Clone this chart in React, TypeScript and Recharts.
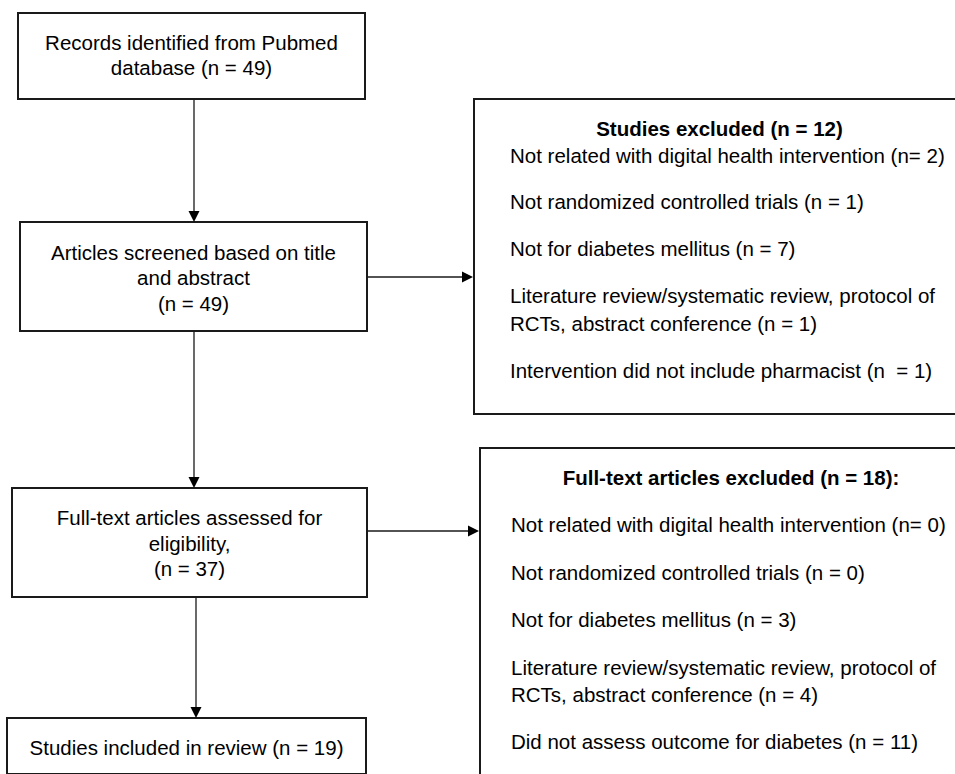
import React from "react";
import { ScatterChart, Scatter, XAxis, YAxis, ReferenceArea, ReferenceLine } from "recharts";

const FONT = '"Liberation Sans", Arial, Helvetica, sans-serif';
const W = 955;
const H = 774;

// Main flow boxes (labels)
const mainBoxLabels: string[][] = [
  ["Records identified from Pubmed", "database (n = 49)"],
  ["Articles screened based on title", "and abstract", "(n = 49)"],
  ["Full-text articles assessed for", "eligibility,", "(n = 37)"],
  ["Studies included in review (n = 19)"],
];
// Main flow boxes (geometry in diagram units)
const mainBoxX1 = [18, 20, 12, 7];
const mainBoxX2 = [365, 367, 367, 366];
const mainBoxY1 = [13, 222, 488, 718];
const mainBoxY2 = [99, 331, 597, 774];
const mainBoxLineY = [[42, 67], [252, 277, 303], [517, 543, 568], [747]];

// Exclusion boxes
const screeningTitle = "Studies excluded (n = 12)";
const screeningReasons: string[][] = [
  ["Not related with digital health intervention (n= 2)"],
  ["Not randomized controlled trials (n = 1)"],
  ["Not for diabetes mellitus (n = 7)"],
  ["Literature review/systematic review, protocol of", "RCTs, abstract conference (n = 1)"],
  ["Intervention did not include pharmacist (n  = 1)"],
];
const screeningTitleY = 128;
const screeningReasonY = [[155], [201], [248], [295, 323], [370]];

const fullTextTitle = "Full-text articles excluded (n = 18):";
const fullTextReasons: string[][] = [
  ["Not related with digital health intervention (n= 0)"],
  ["Not randomized controlled trials (n = 0)"],
  ["Not for diabetes mellitus (n = 3)"],
  ["Literature review/systematic review, protocol of", "RCTs, abstract conference (n = 4)"],
  ["Did not assess outcome for diabetes (n = 11)"],
];
const fullTextTitleY = 477;
const fullTextReasonY = [[524], [572], [619], [667, 694], [741]];

const sideBoxX1 = [474, 480];
const sideBoxX2 = [965, 982];
const sideBoxY1 = [99, 448];
const sideBoxY2 = [414, 800];
const sideTextX = [510, 511];

// Arrows: [x1, y1, x2, y2]
const arrowsFrom = [[194, 99], [194, 331], [196, 597], [367, 277], [367, 531]];
const arrowsTo = [[194, 222], [194, 488], [196, 718], [473, 277], [479, 531]];

type TextItem = { x: number; y: number; label: string; anchor: "start" | "middle"; bold: boolean };

const textItems: TextItem[] = [];
mainBoxLabels.forEach((lines, i) => {
  const cx = (mainBoxX1[i] + mainBoxX2[i]) / 2;
  lines.forEach((l, j) => textItems.push({ x: cx, y: mainBoxLineY[i][j], label: l, anchor: "middle", bold: false }));
});
const sideTitles = [screeningTitle, fullTextTitle];
const sideTitleY = [screeningTitleY, fullTextTitleY];
const sideReasons = [screeningReasons, fullTextReasons];
const sideReasonY = [screeningReasonY, fullTextReasonY];
sideTitles.forEach((t, i) => {
  textItems.push({ x: (sideBoxX1[i] + sideBoxX2[i]) / 2, y: sideTitleY[i], label: t, anchor: "middle", bold: true });
  sideReasons[i].forEach((lines, k) =>
    lines.forEach((l, j) => textItems.push({ x: sideTextX[i], y: sideReasonY[i][k][j], label: l, anchor: "start", bold: false }))
  );
});

const TextShape = (props: any) => {
  const { cx, cy, payload } = props;
  if (cx == null || cy == null || !payload) return <g />;
  return (
    <text
      x={cx}
      y={cy}
      textAnchor={payload.anchor}
      dominantBaseline="central"
      fontFamily={FONT}
      fontSize={20.5}
      fontWeight={payload.bold ? "bold" : "normal"}
      fill="#000"
      style={{ whiteSpace: "pre" }}
    >
      {payload.label}
    </text>
  );
};

const ArrowShape = (props: any) => {
  const { x1, y1, x2, y2 } = props;
  if ([x1, y1, x2, y2].some((v) => v == null || isNaN(v))) return <g />;
  const dx = x2 - x1;
  const dy = y2 - y1;
  const len = Math.hypot(dx, dy) || 1;
  const ux = dx / len;
  const uy = dy / len;
  const head = 11;
  const half = 5.5;
  const bx = x2 - ux * head;
  const by = y2 - uy * head;
  const pts = `${x2},${y2} ${bx - uy * half},${by + ux * half} ${bx + uy * half},${by - ux * half}`;
  return (
    <g>
      <line x1={x1} y1={y1} x2={bx} y2={by} stroke="#1a1a1a" strokeWidth={1.3} />
      <polygon points={pts} fill="#000" stroke="none" />
    </g>
  );
};

export default function App() {
  return (
    <div style={{ position: "absolute", left: 0, top: 0, background: "#fff" }}>
      <ScatterChart width={W} height={H} margin={{ top: 0, right: 0, bottom: 0, left: 0 }}>
        <XAxis type="number" dataKey="x" domain={[0, W]} hide allowDataOverflow />
        <YAxis type="number" dataKey="y" domain={[0, H]} reversed hide allowDataOverflow />
        {mainBoxX1.map((x1, i) => (
          <ReferenceArea
            key={`mb${i}`}
            x1={x1}
            x2={mainBoxX2[i]}
            y1={mainBoxY1[i]}
            y2={mainBoxY2[i]}
            fill="none"
            stroke="#1a1a1a"
            strokeWidth={2}
            ifOverflow="visible"
          />
        ))}
        {sideBoxX1.map((x1, i) => (
          <ReferenceArea
            key={`sb${i}`}
            x1={x1}
            x2={sideBoxX2[i]}
            y1={sideBoxY1[i]}
            y2={sideBoxY2[i]}
            fill="none"
            stroke="#1a1a1a"
            strokeWidth={2}
            ifOverflow="visible"
          />
        ))}
        {arrowsFrom.map((f, i) => (
          <ReferenceLine
            key={`ar${i}`}
            segment={[{ x: f[0], y: f[1] }, { x: arrowsTo[i][0], y: arrowsTo[i][1] }]}
            shape={ArrowShape}
            ifOverflow="visible"
          />
        ))}
        <Scatter data={textItems} shape={TextShape} isAnimationActive={false} />
      </ScatterChart>
    </div>
  );
}
